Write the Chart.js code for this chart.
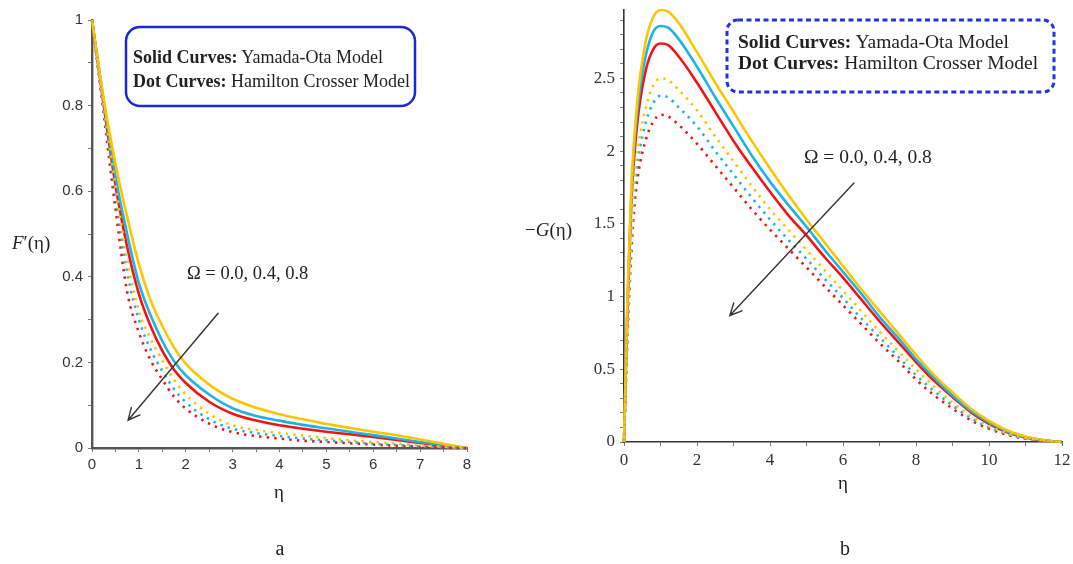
<!DOCTYPE html>
<html><head><meta charset="utf-8">
<script src="https://cdn.jsdelivr.net/npm/chart.js@4.4.1/dist/chart.umd.min.js"></script>
<style>
html,body{margin:0;padding:0;background:#fff;width:1073px;height:564px;overflow:hidden;}
#wrap{position:relative;width:1073px;height:564px;}
canvas{position:absolute;}
.t{position:absolute;white-space:nowrap;font-family:"Liberation Serif","Times New Roman",serif;color:#222;transform:translate(0,-50%);line-height:1;}
.c{transform:translate(-50%,-50%);}
b{font-weight:bold;}
svg{position:absolute;left:0;top:0;}
</style></head>
<body><div id="wrap">
<canvas id="ca" width="540" height="480" style="left:0;top:0"></canvas>
<canvas id="cb" width="533" height="480" style="left:540px;top:0"></canvas>
<svg width="1073" height="564">
  <rect x="126" y="27" width="289" height="79" rx="14" ry="14" fill="none" stroke="#1a2ad0" stroke-width="2.5"/>
  <rect x="727" y="20" width="327" height="72" rx="11" ry="11" fill="none" stroke="#2233e0" stroke-width="3" stroke-dasharray="5 3.5"/>
</svg>
<div class="t" style="left:133px;top:57px;font-size:18px"><b>Solid Curves:</b> Yamada-Ota Model</div>
<div class="t" style="left:133px;top:81px;font-size:18px"><b>Dot Curves:</b> Hamilton Crosser Model</div>
<div class="t" style="left:738px;top:42px;font-size:19.5px"><b>Solid Curves:</b> Yamada-Ota Model</div>
<div class="t" style="left:738px;top:63px;font-size:19.5px"><b>Dot Curves:</b> Hamilton Crosser Model</div>
<div class="t" style="left:187px;top:273px;font-size:18.5px">Ω = 0.0, 0.4, 0.8</div>
<div class="t" style="left:804px;top:157px;font-size:19.5px">Ω = 0.0, 0.4, 0.8</div>
<div class="t" style="left:12px;top:242px;font-size:19px"><i>F</i>′(η)</div>
<div class="t" style="left:525px;top:229px;font-size:19px">−<i>G</i>(η)</div>
<div class="t c" style="left:279px;top:491px;font-size:19px">η</div>
<div class="t c" style="left:843px;top:482px;font-size:19px">η</div>
<div class="t c" style="left:280px;top:548px;font-size:20px">a</div>
<div class="t c" style="left:845px;top:548px;font-size:20px">b</div>
</div>
<script>
// ---- Panel a: F'(eta) ----
const etaA = [0,0.25,0.5,0.75,1,1.25,1.5,1.75,2,2.5,3,3.5,4,4.5,5,5.5,6,6.5,7,7.5,8];
const aSolidYellow = [1,0.815,0.665,0.54,0.43,0.345,0.285,0.235,0.197,0.148,0.115,0.094,0.079,0.067,0.056,0.047,0.038,0.03,0.02,0.01,0];
const aSolidCyan   = [1,0.81,0.635,0.5,0.385,0.31,0.25,0.203,0.17,0.125,0.093,0.075,0.064,0.054,0.046,0.038,0.03,0.022,0.014,0.007,0];
const aSolidRed    = [1,0.80,0.615,0.47,0.36,0.285,0.227,0.183,0.152,0.108,0.08,0.064,0.053,0.045,0.038,0.032,0.026,0.019,0.012,0.005,0];
const aDotYellow   = [1,0.80,0.615,0.44,0.32,0.255,0.205,0.16,0.125,0.08,0.053,0.042,0.035,0.029,0.023,0.018,0.014,0.01,0.006,0.003,0];
const aDotCyan     = [1,0.79,0.60,0.41,0.30,0.23,0.18,0.138,0.107,0.067,0.045,0.035,0.028,0.022,0.018,0.014,0.01,0.007,0.004,0.002,0];
const aDotRed      = [1,0.78,0.56,0.365,0.27,0.205,0.16,0.12,0.092,0.057,0.037,0.028,0.022,0.017,0.014,0.011,0.008,0.005,0.003,0.001,0];
const aYTicksLabeled = [0,0.2,0.4,0.6,0.8,1];
const aXTicksLabeled = [0,1,2,3,4,5,6,7,8];

// ---- Panel b: -G(eta) ----
const etaB = [0,0.1,0.2,0.3,0.4,0.6,0.8,1,1.2,1.5,2,2.5,3,3.5,4,4.5,5,5.5,6,6.5,7,7.5,8,8.5,9,9.5,10,10.5,11,11.5,12];
const bSolidYellow = [0,1.05,1.75,2.15,2.43,2.76,2.92,2.97,2.96,2.88,2.68,2.47,2.27,2.07,1.88,1.70,1.53,1.37,1.21,1.05,0.9,0.75,0.6,0.46,0.34,0.23,0.145,0.08,0.038,0.013,0];
const bSolidCyan   = [0,1.0,1.7,2.1,2.35,2.66,2.82,2.86,2.85,2.77,2.58,2.37,2.17,1.97,1.79,1.63,1.48,1.32,1.17,1.02,0.86,0.72,0.57,0.44,0.32,0.215,0.135,0.072,0.035,0.012,0];
const bSolidRed    = [0,0.95,1.65,2.02,2.27,2.56,2.70,2.74,2.73,2.65,2.47,2.27,2.07,1.89,1.72,1.56,1.42,1.27,1.13,0.98,0.83,0.69,0.55,0.42,0.31,0.205,0.125,0.067,0.031,0.01,0];
const bDotYellow   = [0,0.85,1.45,1.85,2.05,2.3,2.45,2.50,2.49,2.42,2.28,2.1,1.93,1.76,1.60,1.46,1.32,1.18,1.04,0.9,0.76,0.63,0.50,0.38,0.27,0.18,0.11,0.06,0.028,0.01,0];
const bDotCyan     = [0,0.8,1.38,1.76,1.96,2.2,2.33,2.38,2.37,2.3,2.17,2.0,1.84,1.68,1.53,1.39,1.26,1.12,0.99,0.85,0.72,0.59,0.46,0.35,0.25,0.165,0.10,0.055,0.025,0.009,0];
const bDotRed      = [0,0.75,1.3,1.66,1.86,2.08,2.2,2.25,2.24,2.18,2.05,1.9,1.75,1.6,1.46,1.33,1.2,1.07,0.94,0.81,0.68,0.56,0.43,0.32,0.23,0.15,0.09,0.05,0.022,0.008,0];
const bYTicksLabeled = [0,0.5,1,1.5,2,2.5];
const bXTicksLabeled = [0,2,4,6,8,10,12];

const YELLOW = '#ffc400', CYAN = '#1db3e6', RED = '#f21414';

function pts(xs, ys){ return xs.map((x,i)=>({x:x, y:ys[i]})); }
function solid(xs, ys, col){ return {data:pts(xs,ys), borderColor:col, borderWidth:2.6, pointRadius:0, fill:false, cubicInterpolationMode:'monotone', clip:6}; }
function dotted(xs, ys, col){ return {data:pts(xs,ys), borderColor:col, borderWidth:2.6, borderDash:[2.4,5.2], pointRadius:0, fill:false, cubicInterpolationMode:'monotone', clip:6}; }
function isIn(v, list){ return list.some(t=>Math.abs(t-v)<1e-6); }

function arrowPlugin(from, to){
  return {id:'arrow', afterDatasetsDraw(chart){
    const xs = chart.scales.x, ys = chart.scales.y, ctx = chart.ctx;
    const x1 = xs.getPixelForValue(from[0]), y1 = ys.getPixelForValue(from[1]);
    const x2 = xs.getPixelForValue(to[0]), y2 = ys.getPixelForValue(to[1]);
    const ang = Math.atan2(y2-y1, x2-x1), L = 13, w = 0.45;
    ctx.save(); ctx.strokeStyle='#333'; ctx.lineWidth=1.4; ctx.lineCap='round';
    ctx.beginPath(); ctx.moveTo(x1,y1); ctx.lineTo(x2,y2);
    ctx.moveTo(x2 - L*Math.cos(ang-w), y2 - L*Math.sin(ang-w)); ctx.lineTo(x2,y2);
    ctx.lineTo(x2 - L*Math.cos(ang+w), y2 - L*Math.sin(ang+w));
    ctx.stroke(); ctx.restore();
  }};
}

function makeChart(id, xs, series, cfg){
  const ds = [
    dotted(xs, series[3], YELLOW), dotted(xs, series[4], CYAN), dotted(xs, series[5], RED),
    solid(xs, series[0], YELLOW), solid(xs, series[1], CYAN), solid(xs, series[2], RED)
  ];
  return new Chart(document.getElementById(id), {
    type:'line',
    data:{datasets:ds},
    options:{
      responsive:false, animation:false, devicePixelRatio:1,
      layout:{padding:{left:0, right:cfg.padR, top:cfg.padT, bottom:0}},
      plugins:{legend:{display:false}, tooltip:{enabled:false}},
      scales:{
        x:{type:'linear', min:cfg.xmin, max:cfg.xmax,
           afterFit:(s)=>{s.height = cfg.xH; s.paddingLeft = 0; s.paddingRight = 0;},
           border:{display:true, color:cfg.axisCol, width:cfg.axisW},
           grid:{display:true, drawOnChartArea:false, drawTicks:true, tickLength:4, color:'#777'},
           ticks:{stepSize:cfg.xStep, autoSkip:false, maxRotation:0, padding:cfg.xPad, includeBounds:false,
                  color:'#333', font:{family:cfg.font, size:cfg.fsize},
                  callback:(v)=> isIn(v, cfg.xLab) ? String(v) : ''}},
        y:{type:'linear', min:cfg.ymin, max:cfg.ymax,
           afterFit:(s)=>{s.width = cfg.yW; s.paddingTop = 0; s.paddingBottom = 0;},
           border:{display:true, color:cfg.axisCol, width:cfg.axisW},
           grid:{display:true, drawOnChartArea:false, drawTicks:true, tickLength:4, color:'#777'},
           ticks:{stepSize:0.1, autoSkip:false, padding:cfg.yPad, includeBounds:false,
                  color:'#333', font:{family:cfg.font, size:cfg.fsize},
                  callback:(v)=> isIn(v, cfg.yLab) ? String(Math.round(v*10)/10) : ''}}
      }
    },
    plugins:[arrowPlugin(cfg.arrowFrom, cfg.arrowTo)]
  });
}

makeChart('ca', etaA, [aSolidYellow,aSolidCyan,aSolidRed,aDotYellow,aDotCyan,aDotRed], {
  padR:73, padT:20, xH:32, yW:92, xmin:0, xmax:8, ymin:0, ymax:1, xStep:0.5,
  xLab:aXTicksLabeled, yLab:aYTicksLabeled, xPad:4, yPad:5,
  font:'"Liberation Sans", Arial, sans-serif', fsize:15, axisCol:'#555', axisW:2.4,
  arrowFrom:[2.69,0.315], arrowTo:[0.77,0.065]
});
makeChart('cb', etaB, [bSolidYellow,bSolidCyan,bSolidRed,bDotYellow,bDotCyan,bDotRed], {
  padR:11, padT:10, xH:38, yW:84, xmin:0, xmax:12, ymin:0, ymax:2.97, xStep:1,
  xLab:bXTicksLabeled, yLab:bYTicksLabeled, xPad:4, yPad:5,
  font:'"Liberation Serif", "Times New Roman", serif', fsize:17, axisCol:'#333', axisW:1.6,
  arrowFrom:[6.3,1.78], arrowTo:[2.9,0.87]
});
</script>
</body></html>
